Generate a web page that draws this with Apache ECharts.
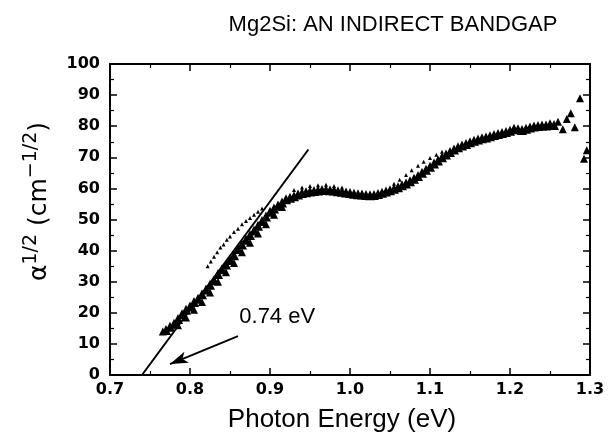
<!DOCTYPE html>
<html>
<head>
<meta charset="utf-8">
<script src="https://cdn.jsdelivr.net/npm/echarts@6/dist/echarts.min.js"></script>
<style>
  html, body { margin: 0; padding: 0; background: #fff; }
  #chart { width: 613px; height: 448px; }
</style>
</head>
<body>
<div id="chart"></div>
<script>
// photon energy (eV) / alpha^1/2 (cm^-1/2), main band
const bandE = [0.770, 0.775, 0.780, 0.785, 0.790, 0.795, 0.800, 0.805, 0.810, 0.815,
  0.820, 0.825, 0.830, 0.835, 0.840, 0.845, 0.850, 0.855, 0.860, 0.865,
  0.870, 0.875, 0.880, 0.885, 0.890, 0.895, 0.900, 0.905, 0.910, 0.915,
  0.920, 0.925, 0.930, 0.935, 0.940, 0.945, 0.950, 0.955, 0.960, 0.965,
  0.970, 0.975, 0.980, 0.985, 0.990, 0.995, 1.000, 1.005, 1.010, 1.015,
  1.020, 1.025, 1.030, 1.035, 1.040, 1.045, 1.050, 1.055, 1.060, 1.065,
  1.070, 1.075, 1.080, 1.085, 1.090, 1.095, 1.100, 1.105, 1.110, 1.115,
  1.120, 1.125, 1.130, 1.135, 1.140, 1.145, 1.150, 1.155, 1.160, 1.165,
  1.170, 1.175, 1.180, 1.185, 1.190, 1.195, 1.200, 1.205, 1.210, 1.215,
  1.220, 1.225, 1.230, 1.235, 1.240, 1.245, 1.250, 1.255];
const bandA = [14.5, 15.5, 16.5, 18.0, 19.5, 21.0, 22.0, 23.5, 24.5, 26.0,
  27.5, 29.0, 30.5, 32.5, 34.0, 35.5, 37.0, 38.5, 40.5, 42.0,
  43.5, 45.0, 46.5, 48.0, 49.5, 51.0, 52.5, 53.5, 54.5, 55.5,
  56.5, 57.0, 57.5, 58.0, 58.5, 58.8, 59.0, 59.2, 59.3, 59.5,
  59.5, 59.4, 59.3, 59.1, 58.9, 58.7, 58.5, 58.3, 58.1, 58.0,
  57.9, 57.8, 57.9, 58.2, 58.6, 59.0, 59.4, 59.9, 60.4, 61.0,
  61.6, 62.3, 63.1, 64.0, 65.0, 66.0, 67.0, 68.0, 69.0, 70.0,
  70.9, 71.7, 72.5, 73.2, 73.8, 74.3, 74.8, 75.3, 75.7, 76.1,
  76.4, 76.8, 77.2, 77.5, 77.8, 78.1, 78.5, 79.2, 79.0, 78.8,
  79.2, 79.6, 79.9, 80.1, 80.2, 80.2, 80.6, 80.4];
// lower edge of the band where it is steep
const band2E = [0.766, 0.785, 0.795, 0.805, 0.815, 0.825, 0.835, 0.845, 0.855, 0.865,
  0.875, 0.885, 0.895, 0.905, 0.915];
const band2A = [14.0, 16.0, 18.5, 21.0, 23.5, 26.5, 30.0, 33.0, 36.0, 39.5,
  42.5, 45.5, 48.5, 51.5, 54.0];
// scattered upper points
const upperE = [0.822, 0.826, 0.830, 0.834, 0.838, 0.842, 0.846, 0.850, 0.855, 0.860,
  0.865, 0.870, 0.875, 0.880, 0.885, 0.890, 0.930, 0.940, 0.950, 0.960,
  0.970, 0.980, 0.990, 1.055, 1.062, 1.070, 1.077, 1.085, 1.092, 1.100, 1.108, 1.115];
const upperA = [35.0, 36.5, 38.0, 39.5, 41.0, 42.0, 43.5, 44.5, 46.0, 47.0,
  48.5, 49.5, 50.5, 51.5, 52.5, 53.5, 59.5, 60.3, 60.8, 61.0,
  61.2, 60.8, 60.3, 61.5, 62.8, 64.3, 65.8, 67.3, 68.6, 69.8, 70.8, 71.8];
// isolated points at the high energy end
const tailE = [1.260, 1.266, 1.271, 1.276, 1.281, 1.2875, 1.2925, 1.296];
const tailA = [81.4, 79.0, 82.3, 84.2, 79.7, 89.0, 69.5, 72.3];
// straight line fit, extrapolated to the gap
const fitE = [0.740, 0.948];
const fitA = [0, 72.5];
const xTickLabels = ['0.7', '0.8', '0.9', '1.0', '1.1', '1.2', '1.3'];
const yTickLabels = ['0', '10', '20', '30', '40', '50', '60', '70', '80', '90', '100'];

const zip = (xs, ys) => xs.map((x, i) => [x, ys[i]]);

const tickFont = { fontFamily: 'DejaVu Sans', fontWeight: 'bold', fontSize: 16, color: '#000' };
const axisBase = {
  axisLine: { show: true, onZero: false, lineStyle: { color: '#000', width: 2 } },
  axisTick: { show: true, inside: true, length: 7, lineStyle: { color: '#000', width: 1.5 } },
  minorTick: { show: true, splitNumber: 2, length: 4, lineStyle: { color: '#000', width: 1.2 } },
  splitLine: { show: false },
};
const dots = { color: '#000', opacity: 1 };

var myChart = echarts.init(document.getElementById('chart'));
const option = {
  animation: false,
  title: {
    text: 'Mg2Si: AN INDIRECT BANDGAP',
    left: 388,
    textAlign: 'center',
    top: 9,
    textStyle: { fontFamily: 'Liberation Sans', fontWeight: 'normal', fontSize: 22, color: '#000' }
  },
  grid: { left: 110, right: 23, top: 64, bottom: 73 },
  xAxis: [
    {
      ...axisBase,
      type: 'value', min: 0.7, max: 1.3, interval: 0.1,
      name: 'Photon Energy (eV)', nameLocation: 'middle', nameGap: 32,
      nameTextStyle: { fontFamily: 'Liberation Sans', fontSize: 26, color: '#000', padding: [0, 16, 0, 0] },
      axisLabel: { ...tickFont, margin: 7, formatter: (v) => xTickLabels[Math.round((v - 0.7) * 10)] }
    },
    {
      ...axisBase,
      type: 'value', position: 'top', min: 0.7, max: 1.3, interval: 0.1,
      axisLabel: { show: false }
    }
  ],
  yAxis: [
    {
      ...axisBase,
      type: 'value', min: 0, max: 100, interval: 10,
      name: '{a|α}{s|1/2}{a| (cm}{s|−1/2}{a|)}',
      nameLocation: 'middle', nameGap: 58, nameRotate: 90,
      nameTextStyle: {
        padding: [0, 0, 0, 36],
        rich: {
          a: { fontFamily: 'DejaVu Sans', fontSize: 25, color: '#000', lineHeight: 30, verticalAlign: 'bottom' },
          s: { fontFamily: 'DejaVu Sans', fontSize: 19, color: '#000', lineHeight: 24, verticalAlign: 'top' }
        }
      },
      axisLabel: { ...tickFont, margin: 10, formatter: (v) => yTickLabels[Math.round(v / 10)] }
    },
    {
      ...axisBase,
      type: 'value', position: 'right', min: 0, max: 100, interval: 10,
      axisLabel: { show: false }
    }
  ],
  series: [
    {
      type: 'scatter', data: zip(bandE, bandA),
      symbol: 'triangle', symbolSize: 10,
      itemStyle: dots
    },
    {
      type: 'scatter', data: zip(band2E, band2A),
      symbol: 'triangle', symbolSize: 8,
      itemStyle: dots
    },
    {
      type: 'scatter', data: zip(upperE, upperA),
      symbol: 'triangle', symbolSize: 4,
      itemStyle: dots
    },
    {
      type: 'scatter', data: zip(tailE, tailA),
      symbol: 'triangle', symbolSize: 8,
      itemStyle: dots
    },
    {
      type: 'line', data: zip(fitE, fitA),
      symbol: 'none',
      lineStyle: { color: '#000', width: 2 },
      markLine: {
        silent: true,
        symbol: ['none', 'arrow'], symbolSize: [9, 18],
        lineStyle: { color: '#000', width: 2, type: 'solid' },
        label: { show: false },
        data: [[{ coord: [0.86, 12.5] }, { coord: [0.775, 3.5] }]]
      }
    },
    {
      type: 'scatter', data: [[0.909, 18.6]],
      symbolSize: 0,
      itemStyle: dots,
      label: {
        show: true, position: 'inside', formatter: '0.74 eV',
        fontFamily: 'Liberation Sans', fontSize: 22, color: '#000'
      }
    }
  ]
};
myChart.setOption(option);
</script>
</body>
</html>
